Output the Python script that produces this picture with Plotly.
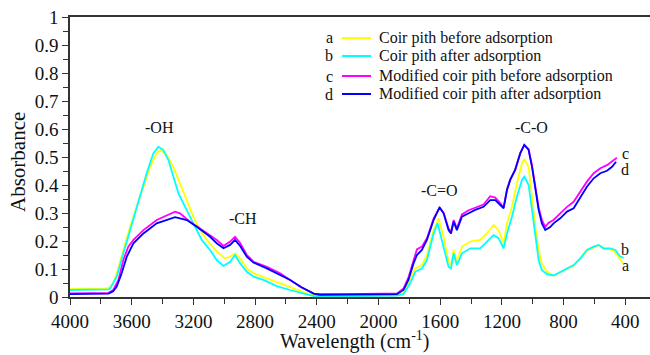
import plotly.graph_objects as go

# ---- data ----
a_wn = [4000, 3900, 3800, 3750, 3720, 3697, 3654, 3611, 3546, 3481, 3438, 3412, 3373, 3330, 3287, 3243, 3200, 3157, 3113, 3049, 2995, 2962, 2930, 2897, 2854, 2811, 2724, 2638, 2573, 2500, 2440, 2400, 2200, 2000, 1880, 1838, 1795, 1762, 1719, 1686, 1643, 1611, 1578, 1546, 1530, 1513, 1492, 1459, 1405, 1341, 1297, 1254, 1222, 1189, 1167, 1135, 1103, 1070, 1055, 1027, 1005, 984, 962, 941, 908, 865, 822, 778, 735, 692, 649, 605, 573, 540, 497, 465, 432, 415]
a_abs = [0.028, 0.03, 0.029, 0.032, 0.05, 0.085, 0.168, 0.251, 0.358, 0.465, 0.513, 0.525, 0.507, 0.465, 0.406, 0.346, 0.287, 0.239, 0.204, 0.162, 0.138, 0.144, 0.156, 0.138, 0.102, 0.085, 0.067, 0.049, 0.037, 0.02, 0.008, 0.006, 0.006, 0.007, 0.008, 0.015, 0.061, 0.102, 0.114, 0.15, 0.239, 0.281, 0.215, 0.126, 0.114, 0.168, 0.126, 0.18, 0.198, 0.204, 0.227, 0.257, 0.239, 0.192, 0.263, 0.322, 0.406, 0.477, 0.492, 0.465, 0.358, 0.251, 0.168, 0.12, 0.09, 0.076, 0.088, 0.1, 0.112, 0.136, 0.165, 0.178, 0.184, 0.172, 0.17, 0.16, 0.135, 0.12]

b_wn = [4000, 3800, 3750, 3740, 3697, 3654, 3611, 3578, 3546, 3503, 3460, 3427, 3395, 3362, 3330, 3297, 3254, 3200, 3146, 3092, 3049, 3005, 2962, 2930, 2897, 2854, 2811, 2746, 2660, 2573, 2480, 2420, 2200, 2000, 1880, 1838, 1795, 1762, 1719, 1686, 1643, 1617, 1578, 1546, 1530, 1513, 1492, 1459, 1405, 1341, 1297, 1254, 1222, 1189, 1167, 1135, 1103, 1070, 1055, 1027, 1005, 984, 962, 941, 908, 865, 822, 778, 735, 692, 649, 605, 573, 540, 497, 465, 432, 411]
b_abs = [0.025, 0.025, 0.027, 0.03, 0.073, 0.156, 0.239, 0.299, 0.358, 0.442, 0.513, 0.537, 0.525, 0.489, 0.43, 0.37, 0.322, 0.263, 0.204, 0.168, 0.132, 0.111, 0.126, 0.15, 0.12, 0.09, 0.073, 0.061, 0.039, 0.025, 0.01, 0.003, 0.003, 0.004, 0.005, 0.01, 0.049, 0.09, 0.102, 0.132, 0.227, 0.263, 0.18, 0.108, 0.102, 0.156, 0.114, 0.156, 0.174, 0.174, 0.198, 0.221, 0.21, 0.174, 0.227, 0.287, 0.358, 0.418, 0.43, 0.4, 0.311, 0.215, 0.132, 0.096, 0.082, 0.077, 0.09, 0.102, 0.114, 0.138, 0.168, 0.18, 0.186, 0.174, 0.174, 0.168, 0.144, 0.14]

c_wn = [4000, 3800, 3750, 3720, 3686, 3654, 3622, 3589, 3524, 3438, 3351, 3319, 3287, 3222, 3157, 3092, 3049, 3005, 2962, 2930, 2897, 2854, 2811, 2724, 2638, 2573, 2500, 2420, 2380, 2200, 2000, 1880, 1838, 1806, 1773, 1751, 1719, 1686, 1643, 1604, 1578, 1546, 1530, 1513, 1492, 1459, 1416, 1373, 1319, 1276, 1243, 1211, 1189, 1167, 1146, 1114, 1081, 1055, 1027, 1005, 984, 962, 941, 919, 897, 865, 822, 778, 735, 692, 649, 605, 562, 519, 465, 455]
c_abs = [0.013, 0.013, 0.015, 0.025, 0.061, 0.132, 0.18, 0.204, 0.239, 0.275, 0.299, 0.305, 0.299, 0.269, 0.245, 0.221, 0.204, 0.182, 0.198, 0.215, 0.193, 0.15, 0.126, 0.108, 0.085, 0.061, 0.035, 0.012, 0.01, 0.01, 0.012, 0.013, 0.03, 0.07, 0.13, 0.17, 0.18, 0.21, 0.28, 0.32, 0.3, 0.245, 0.232, 0.275, 0.245, 0.295, 0.31, 0.32, 0.33, 0.36, 0.355, 0.335, 0.32, 0.385, 0.42, 0.455, 0.515, 0.543, 0.528, 0.47, 0.39, 0.32, 0.275, 0.25, 0.265, 0.275, 0.299, 0.322, 0.34, 0.376, 0.412, 0.442, 0.46, 0.471, 0.495, 0.497]

d_wn = [4000, 3800, 3750, 3720, 3697, 3665, 3632, 3589, 3524, 3438, 3319, 3243, 3178, 3092, 3049, 3005, 2962, 2930, 2897, 2854, 2811, 2724, 2638, 2573, 2500, 2420, 2380, 2200, 2000, 1880, 1838, 1806, 1773, 1751, 1719, 1686, 1643, 1604, 1578, 1546, 1530, 1513, 1492, 1459, 1416, 1373, 1319, 1276, 1243, 1211, 1189, 1167, 1146, 1114, 1081, 1055, 1027, 1005, 984, 962, 941, 919, 887, 865, 822, 778, 735, 692, 649, 605, 562, 519, 486, 460]
d_abs = [0.01, 0.01, 0.012, 0.02, 0.037, 0.085, 0.144, 0.192, 0.227, 0.263, 0.285, 0.275, 0.251, 0.215, 0.192, 0.174, 0.186, 0.204, 0.182, 0.144, 0.123, 0.102, 0.079, 0.061, 0.035, 0.012, 0.008, 0.008, 0.01, 0.01, 0.025, 0.061, 0.12, 0.15, 0.168, 0.204, 0.275, 0.32, 0.299, 0.239, 0.227, 0.269, 0.239, 0.287, 0.299, 0.311, 0.322, 0.346, 0.346, 0.329, 0.317, 0.382, 0.418, 0.454, 0.513, 0.543, 0.525, 0.465, 0.382, 0.311, 0.263, 0.239, 0.25, 0.263, 0.281, 0.305, 0.317, 0.358, 0.394, 0.424, 0.442, 0.451, 0.465, 0.483]

series_names = ["Coir pith before adsorption", "Coir pith after adsorption",
                "Modified coir pith before adsorption", "Modified coir pith after adsorption"]
series_letters = ["a", "b", "c", "d"]
series_colors = ["#FFFF00", "#00FFFF", "#FF00FF", "#0000FF"]

peak_labels = ["-OH", "-CH", "-C=O", "-C-O"]
peak_wn = [3417, 2879, 1602, 1006]
peak_y = [0.604, 0.279, 0.382, 0.607]

end_labels = ["c", "d", "b", "a"]
end_y = [0.514, 0.454, 0.168, 0.111]

x_ticks = [4000, 3600, 3200, 2800, 2400, 2000, 1600, 1200, 800, 400]

FONT = "Liberation Serif, Times New Roman, serif"
AX = "#333333"
TXT = "#111111"

# figure geometry (pixels)
W, H = 650, 355
ML, MR, MT, MB = 70, 0, 17, 58
PW, PH = W - ML - MR, H - MT - MB


def px_x(p):
    return (p - ML) / PW


def px_y(p):
    return (H - MB - p) / PH


fig = go.Figure()
for wn, ab, name, col in zip([a_wn, b_wn, c_wn, d_wn], [a_abs, b_abs, c_abs, d_abs],
                             series_names, series_colors):
    fig.add_trace(go.Scatter(x=wn, y=ab, mode="lines", name=name, showlegend=False,
                             line=dict(color=col, width=1.8)))

for t, x, y in zip(peak_labels, peak_wn, peak_y):
    fig.add_annotation(x=x, y=y, text=t, showarrow=False, xanchor="center", yanchor="middle",
                       font=dict(family=FONT, size=16, color=TXT))
for t, y in zip(end_labels, end_y):
    fig.add_annotation(x=400, y=y, text=t, showarrow=False, xanchor="center", yanchor="middle",
                       font=dict(family=FONT, size=16, color=TXT))

# legend (drawn as layout items)
leg_rows = [38, 56, 76, 94]
for t, name, col, ry in zip(series_letters, series_names, series_colors, leg_rows):
    fig.add_annotation(xref="paper", yref="paper", x=px_x(329), y=px_y(ry), text=t,
                       showarrow=False, xanchor="center", yanchor="middle",
                       font=dict(family=FONT, size=16, color=TXT))
    fig.add_shape(type="line", xref="paper", yref="paper",
                  x0=px_x(342), x1=px_x(371), y0=px_y(ry), y1=px_y(ry),
                  line=dict(color=col, width=2))
    fig.add_annotation(xref="paper", yref="paper", x=px_x(377), y=px_y(ry), text=name,
                       showarrow=False, xanchor="left", yanchor="middle",
                       font=dict(family=FONT, size=16, color=TXT))

# axis titles
fig.add_annotation(xref="paper", yref="paper", x=px_x(354), y=px_y(340),
                   text="Wavelength (cm<sup>-1</sup>)", showarrow=False,
                   xanchor="center", yanchor="middle",
                   font=dict(family=FONT, size=20, color=TXT))
fig.add_annotation(xref="paper", yref="paper", x=px_x(18), y=px_y(162),
                   text="Absorbance", showarrow=False, textangle=-90,
                   xanchor="center", yanchor="middle",
                   font=dict(family=FONT, size=21, color=TXT))

fig.update_layout(
    width=W, height=H,
    margin=dict(l=ML, r=MR, t=MT, b=MB, autoexpand=False),
    paper_bgcolor="white", plot_bgcolor="white",
    font=dict(family=FONT, color=TXT),
    showlegend=False,
    xaxis=dict(range=[4000, 240], tickmode="array", tickvals=x_ticks,
               ticktext=[str(v) for v in x_ticks], automargin=False,
               showline=True, linecolor=AX, linewidth=1.5, mirror=True,
               ticks="outside", ticklen=6, tickwidth=1.2, tickcolor=AX,
               minor=dict(ticks="outside", ticklen=5, tickwidth=1.2, tickcolor=AX, dtick=200, tick0=0),
               showgrid=False, zeroline=False,
               tickfont=dict(family=FONT, size=19, color=TXT)),
    yaxis=dict(range=[0, 1], dtick=0.1, tick0=0, automargin=False,
               showline=True, linecolor=AX, linewidth=1.5,
               ticks="outside", ticklen=6, tickwidth=1.2, tickcolor=AX,
               minor=dict(ticks="outside", ticklen=5, tickwidth=1.2, tickcolor=AX, dtick=0.05),
               showgrid=False, zeroline=False,
               tickfont=dict(family=FONT, size=19, color=TXT)),
)

fig.write_html("out.html", config={"displayModeBar": False},
               post_script="document.body.style.margin='0';document.body.style.padding='0';")
